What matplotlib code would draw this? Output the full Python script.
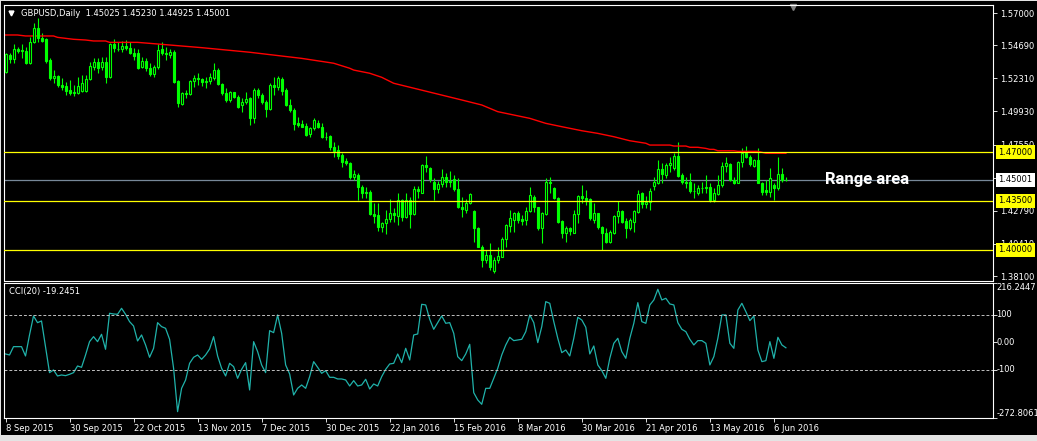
import numpy as np
import matplotlib
matplotlib.use('Agg')
import matplotlib.pyplot as plt
from matplotlib.patches import Rectangle

# GBPUSD daily candles, 8 Sep 2015 .. 9 Jun 2016
opens = [1.5274, 1.5398, 1.5367, 1.5439, 1.5429, 1.5427, 1.5338, 1.5489, 1.5590, 1.5523,
         1.5513, 1.5362, 1.5235, 1.5247, 1.5182, 1.5175, 1.5147, 1.5128, 1.5127, 1.5139,
         1.5139, 1.5226, 1.5310, 1.5348, 1.5310, 1.5348, 1.5242, 1.5475, 1.5439, 1.5439,
         1.5463, 1.5451, 1.5410, 1.5410, 1.5314, 1.5355, 1.5302, 1.5259, 1.5312, 1.5440,
         1.5412, 1.5395, 1.5420, 1.5211, 1.5043, 1.5123, 1.5116, 1.5211, 1.5230, 1.5225,
         1.5201, 1.5211, 1.5235, 1.5290, 1.5187, 1.5123, 1.5075, 1.5130, 1.5099, 1.5039,
         1.5058, 1.5087, 1.4948, 1.5147, 1.5111, 1.5063, 1.5008, 1.5183, 1.5171, 1.5224,
         1.5147, 1.5039, 1.5003, 1.4907, 1.4902, 1.4888, 1.4828, 1.4871, 1.4912, 1.4878,
         1.4811, 1.4816, 1.4734, 1.4715, 1.4678, 1.4638, 1.4619, 1.4524, 1.4536, 1.4447,
         1.4404, 1.4411, 1.4255, 1.4248, 1.4159, 1.4193, 1.4217, 1.4260, 1.4241, 1.4356,
         1.4231, 1.4356, 1.4253, 1.4433, 1.4409, 1.4608, 1.4584, 1.4483, 1.4433, 1.4471,
         1.4524, 1.4483, 1.4505, 1.4433, 1.4308, 1.4284, 1.4332, 1.4277, 1.4152, 1.4021,
         1.3925, 1.3961, 1.3848, 1.3925, 1.3949, 1.4074, 1.4169, 1.4212, 1.4260, 1.4217,
         1.4212, 1.4280, 1.4375, 1.4303, 1.4152, 1.4256, 1.4488, 1.4440, 1.4368, 1.4205,
         1.4116, 1.4152, 1.4121, 1.4256, 1.4385, 1.4368, 1.4361, 1.4212, 1.4260, 1.4159,
         1.4121, 1.4057, 1.4116, 1.4241, 1.4277, 1.4207, 1.4152, 1.4200, 1.4272, 1.4404,
         1.4327, 1.4340, 1.4460, 1.4481, 1.4577, 1.4536, 1.4608, 1.4584, 1.4672, 1.4536,
         1.4488, 1.4488, 1.4423, 1.4404, 1.4445, 1.4440, 1.4447, 1.4356, 1.4399, 1.4464,
         1.4601, 1.4615, 1.4500, 1.4481, 1.4632, 1.4696, 1.4667, 1.4601, 1.4644, 1.4481,
         1.4428, 1.4416, 1.4464, 1.4440, 1.4543, 1.45025]
highs = [1.5415, 1.5415, 1.5475, 1.5458, 1.5475, 1.5458, 1.5530, 1.5626, 1.5662, 1.5554,
         1.5518, 1.5374, 1.5290, 1.5254, 1.5230, 1.5206, 1.5218, 1.5182, 1.5242, 1.5254,
         1.5254, 1.5350, 1.5379, 1.5379, 1.5386, 1.5386, 1.5482, 1.5513, 1.5489, 1.5499,
         1.5506, 1.5494, 1.5446, 1.5440, 1.5386, 1.5374, 1.5338, 1.5326, 1.5477, 1.5494,
         1.5458, 1.5440, 1.5434, 1.5218, 1.5135, 1.5147, 1.5218, 1.5254, 1.5266, 1.5235,
         1.5242, 1.5266, 1.5338, 1.5307, 1.5194, 1.5159, 1.5139, 1.5135, 1.5111, 1.5087,
         1.5130, 1.5099, 1.5159, 1.5159, 1.5123, 1.5075, 1.5195, 1.5242, 1.5247, 1.5242,
         1.5159, 1.5080, 1.5015, 1.4950, 1.4931, 1.4907, 1.4883, 1.4943, 1.4931, 1.4907,
         1.4847, 1.4823, 1.4775, 1.4751, 1.4691, 1.4655, 1.4631, 1.4572, 1.4548, 1.4464,
         1.4447, 1.4428, 1.4332, 1.4332, 1.4200, 1.4284, 1.4361, 1.4296, 1.4404, 1.4361,
         1.4409, 1.4375, 1.4457, 1.4460, 1.4615, 1.4672, 1.4596, 1.4512, 1.4495, 1.4577,
         1.4548, 1.4567, 1.4536, 1.4512, 1.4380, 1.4361, 1.4404, 1.4284, 1.4164, 1.4033,
         1.3997, 1.4045, 1.3949, 1.4021, 1.4088, 1.4183, 1.4284, 1.4272, 1.4279, 1.4248,
         1.4308, 1.4452, 1.4392, 1.4308, 1.4272, 1.4512, 1.4524, 1.4452, 1.4380, 1.4212,
         1.4169, 1.4164, 1.4284, 1.4392, 1.4464, 1.4428, 1.4368, 1.4332, 1.4265, 1.4169,
         1.4152, 1.4140, 1.4248, 1.4351, 1.4284, 1.4224, 1.4224, 1.4284, 1.4428, 1.4416,
         1.4385, 1.4440, 1.4524, 1.4644, 1.4620, 1.4625, 1.4667, 1.4696, 1.4773, 1.4553,
         1.4524, 1.4548, 1.4481, 1.4464, 1.4488, 1.4536, 1.4476, 1.4440, 1.4536, 1.4632,
         1.4663, 1.4620, 1.4524, 1.4639, 1.4727, 1.4744, 1.4679, 1.4648, 1.4727, 1.4488,
         1.4500, 1.4584, 1.4476, 1.4663, 1.4584, 1.45230]
lows = [1.5270, 1.5338, 1.5338, 1.5410, 1.5374, 1.5331, 1.5331, 1.5485, 1.5494, 1.5494,
        1.5338, 1.5218, 1.5194, 1.5170, 1.5147, 1.5111, 1.5111, 1.5106, 1.5115, 1.5135,
        1.5135, 1.5218, 1.5290, 1.5266, 1.5290, 1.5194, 1.5230, 1.5422, 1.5427, 1.5422,
        1.5434, 1.5403, 1.5362, 1.5300, 1.5302, 1.5283, 1.5250, 1.5242, 1.5300, 1.5398,
        1.5362, 1.5375, 1.5200, 1.5027, 1.5039, 1.5091, 1.5111, 1.5171, 1.5182, 1.5177,
        1.5159, 1.5187, 1.5218, 1.5182, 1.5111, 1.5063, 1.5058, 1.5087, 1.5019, 1.4991,
        1.5043, 1.4895, 1.4907, 1.5087, 1.5043, 1.4955, 1.5003, 1.5111, 1.5147, 1.5111,
        1.5032, 1.4991, 1.4859, 1.4878, 1.4878, 1.4816, 1.4811, 1.4859, 1.4871, 1.4799,
        1.4787, 1.4715, 1.4662, 1.4648, 1.4595, 1.4607, 1.4505, 1.4500, 1.4356, 1.4368,
        1.4368, 1.4248, 1.4188, 1.4135, 1.4128, 1.4111, 1.4200, 1.4200, 1.4176, 1.4207,
        1.4224, 1.4152, 1.4248, 1.4370, 1.4404, 1.4560, 1.4488, 1.4356, 1.4404, 1.4452,
        1.4452, 1.4452, 1.4423, 1.4296, 1.4236, 1.4260, 1.4327, 1.4057, 1.4016, 1.3877,
        1.3901, 1.3853, 1.3834, 1.3901, 1.3944, 1.4021, 1.4128, 1.4123, 1.4193, 1.4176,
        1.4176, 1.4272, 1.4272, 1.4140, 1.4050, 1.4248, 1.4404, 1.4361, 1.4193, 1.4081,
        1.4057, 1.4105, 1.4116, 1.4193, 1.4332, 1.4320, 1.4212, 1.4188, 1.4145, 1.3997,
        1.4045, 1.4045, 1.4111, 1.4193, 1.4193, 1.4081, 1.4140, 1.4128, 1.4265, 1.4296,
        1.4296, 1.4284, 1.4428, 1.4471, 1.4481, 1.4512, 1.4560, 1.4572, 1.4524, 1.4471,
        1.4440, 1.4404, 1.4368, 1.4392, 1.4404, 1.4404, 1.4344, 1.4340, 1.4392, 1.4452,
        1.4560, 1.4495, 1.4471, 1.4476, 1.4596, 1.4655, 1.4601, 1.4596, 1.4476, 1.4392,
        1.4392, 1.4380, 1.4356, 1.4428, 1.4488, 1.44925]
closes = [1.5403, 1.5367, 1.5439, 1.5427, 1.5431, 1.5338, 1.5489, 1.5590, 1.5523, 1.5501,
          1.5357, 1.5235, 1.5247, 1.5182, 1.5170, 1.5139, 1.5127, 1.5131, 1.5175, 1.5197,
          1.5226, 1.5322, 1.5348, 1.5302, 1.5348, 1.5242, 1.5475, 1.5451, 1.5440, 1.5463,
          1.5451, 1.5410, 1.5393, 1.5308, 1.5355, 1.5302, 1.5259, 1.5314, 1.5434, 1.5412,
          1.5405, 1.5420, 1.5206, 1.5051, 1.5123, 1.5116, 1.5211, 1.5235, 1.5225, 1.5201,
          1.5211, 1.5242, 1.5290, 1.5187, 1.5123, 1.5075, 1.5135, 1.5099, 1.5027, 1.5063,
          1.5082, 1.4948, 1.5147, 1.5111, 1.5058, 1.5008, 1.5183, 1.5171, 1.5231, 1.5142,
          1.5039, 1.5003, 1.4902, 1.4895, 1.4883, 1.4823, 1.4871, 1.4931, 1.4878, 1.4811,
          1.4806, 1.4734, 1.4710, 1.4672, 1.4631, 1.4619, 1.4524, 1.4543, 1.4447, 1.4404,
          1.4416, 1.4255, 1.4241, 1.4159, 1.4193, 1.4217, 1.4260, 1.4248, 1.4356, 1.4231,
          1.4356, 1.4253, 1.4433, 1.4418, 1.4608, 1.4591, 1.4505, 1.4433, 1.4471, 1.4524,
          1.4483, 1.4495, 1.4433, 1.4303, 1.4289, 1.4332, 1.4399, 1.4152, 1.4021, 1.3925,
          1.3961, 1.3872, 1.3925, 1.3954, 1.4074, 1.4176, 1.4224, 1.4260, 1.4212, 1.4208,
          1.4280, 1.4392, 1.4308, 1.4152, 1.4260, 1.4488, 1.4476, 1.4368, 1.4200, 1.4116,
          1.4152, 1.4135, 1.4256, 1.4385, 1.4368, 1.4356, 1.4224, 1.4260, 1.4159, 1.4121,
          1.4057, 1.4128, 1.4241, 1.4277, 1.4200, 1.4152, 1.4212, 1.4277, 1.4399, 1.4327,
          1.4340, 1.4423, 1.4488, 1.4577, 1.4541, 1.4608, 1.4620, 1.4672, 1.4529, 1.4488,
          1.4476, 1.4423, 1.4418, 1.4445, 1.4440, 1.4452, 1.4356, 1.4404, 1.4464, 1.4601,
          1.4620, 1.4500, 1.4481, 1.4632, 1.4696, 1.4667, 1.4615, 1.4644, 1.4481, 1.4416,
          1.4416, 1.4512, 1.4440, 1.4543, 1.4500, 1.45001]

# CCI(20)
cci = [-41.8, -45.5, -15.2, -15.2, -15.2, -49.1, 27.3, 96.4, 72.1, 78.2,
       -15.2, -109.7, -100.0, -121.8, -118.2, -120.6, -115.8, -109.7, -85.5, -90.3,
       -45.5, 3.0, 21.2, 3.0, 29.7, -24.8, 106.1, 103.6, 102.4, 124.2,
       102.4, 75.8, 60.0, 5.5, 27.3, -9.1, -53.9, -21.2, 72.1, 57.6,
       51.5, 11.5, -93.9, -251.5, -166.7, -136.4, -75.8, -53.9, -45.5, -61.2,
       -45.5, -23.6, 21.2, -49.1, -93.9, -121.8, -75.8, -87.9, -130.3, -97.6,
       -73.3, -172.7, 3.0, -33.3, -81.8, -109.7, 43.0, 35.8, 100.0, 33.3,
       -81.8, -114.5, -190.9, -166.7, -154.5, -166.7, -124.2, -69.7, -90.3, -112.1,
       -102.4, -126.7, -126.7, -132.7, -132.7, -136.4, -158.2, -138.8, -158.2, -154.5,
       -133.9, -169.1, -150.9, -158.2, -124.2, -97.6, -78.2, -75.8, -41.8, -73.3,
       -21.2, -63.6, 27.3, 30.9, 138.8, 136.4, 84.2, 47.9, 72.1, 96.4,
       69.7, 72.1, 33.3, -51.5, -66.1, -41.8, -6.7, -182.4, -209.1, -224.8,
       -166.7, -166.7, -130.3, -93.9, -45.5, -9.1, 18.8, 6.7, 9.1, 11.5,
       39.4, 100.0, 72.1, -0.6, 57.6, 148.5, 142.4, 75.8, 15.2, -37.0,
       -27.3, -49.1, 15.2, 91.5, 81.8, 55.2, -41.8, -12.7, -81.8, -102.4,
       -130.3, -57.6, -3.0, 15.2, -33.3, -57.6, 15.2, 69.7, 144.8, 75.8,
       69.7, 136.4, 154.5, 193.3, 154.5, 160.6, 140.0, 136.4, 72.1, 47.9,
       39.4, 11.5, -9.1, 6.7, 6.7, -3.0, -81.8, -51.5, 15.2, 100.0,
       100.0, -3.0, -21.2, 118.2, 142.4, 112.1, 79.4, 96.4, -27.3, -69.7,
       -66.1, 3.0, -57.6, 18.8, -9.1, -19.2451]

# red moving average, sampled at these bars
ma_idx = [0, 3, 5, 12, 13, 15, 17, 20, 22, 25, 26, 33, 36, 49, 61, 74, 82, 86, 87, 91,
          94, 97, 114, 119, 123, 127, 131, 135, 139, 144, 148, 152, 156, 160, 161, 166,
          167, 170, 171, 173, 175, 176, 177, 178, 182, 183, 188, 190, 195]
ma_val = [1.5542, 1.5542, 1.5535, 1.5535, 1.5525, 1.5518, 1.5511, 1.5506, 1.5499, 1.5499,
          1.5489, 1.5489, 1.5482, 1.5451, 1.5418, 1.5374, 1.5339, 1.5303, 1.5290, 1.5267,
          1.5238, 1.5195, 1.5075, 1.5039, 1.4991, 1.4967, 1.4943, 1.4907, 1.4883, 1.4854,
          1.4835, 1.4811, 1.4782, 1.4764, 1.4751, 1.4751, 1.4744, 1.4744, 1.4735, 1.4735,
          1.4727, 1.4720, 1.4720, 1.4710, 1.4710, 1.4706, 1.4706, 1.4692, 1.4692]

levels = [1.47, 1.435, 1.40]
bid = 1.45001

price_ticks = [1.57, 1.5469, 1.5231, 1.4993, 1.4755, 1.4517, 1.4279, 1.4041, 1.381]
cci_ticks = [216.2447, 100, 0, -100, -272.8061]
cci_labels = ['216.2447', '100', '0.00', '-100', '-272.8061']
date_idx = [0, 16, 32, 48, 64, 80, 96, 112, 128, 144, 160, 176, 192]
date_labels = ['8 Sep 2015', '30 Sep 2015', '22 Oct 2015', '13 Nov 2015', '7 Dec 2015',
               '30 Dec 2015', '22 Jan 2016', '15 Feb 2016', '8 Mar 2016', '30 Mar 2016',
               '21 Apr 2016', '13 May 2016', '6 Jun 2016']

W, H = 1037, 441
fig = plt.figure(figsize=(W / 100, H / 100), dpi=100, facecolor='black')


def px_rect(l, t, r, b):
    return [l / W, 1 - b / H, (r - l) / W, (b - t) / H]


# light window frame round the chart
for l, t, r, b in [(0, 0, W, 1), (0, 0, 1, H), (0, 435, W, H)]:
    fl, fb, fw, fh = px_rect(l, t, r, b)
    fig.patches.append(Rectangle((fl, fb), fw, fh, transform=fig.transFigure,
                                 facecolor='#E3E3E3', edgecolor='none'))

ax = fig.add_axes(px_rect(4, 4.5, 993, 280.5), facecolor='black')
ax2 = fig.add_axes(px_rect(4, 283, 993, 417.5), facecolor='black')

x = np.arange(len(opens))
o, h, l, c = (np.array(v) for v in (opens, highs, lows, closes))
up = c >= o
bot = np.minimum(o, c)
hgt = np.maximum(np.abs(c - o), 0.00003)

# candles
ax.vlines(x, l, h, color='#00FF00', lw=0.8, zorder=2)
ax.bar(x[up], hgt[up], bottom=bot[up], width=0.5, facecolor='black',
       edgecolor='#00FF00', lw=0.8, zorder=3)
ax.bar(x[~up], hgt[~up], bottom=bot[~up], width=0.5, facecolor='#00FF00',
       edgecolor='#00FF00', lw=0.8, zorder=3)

ax.plot(ma_idx, ma_val, color='red', lw=1.0, zorder=2)
for lv in levels:
    ax.axhline(lv, color='yellow', lw=0.9, zorder=4)
ax.axhline(bid, color='#778899', lw=0.9, zorder=1)

ax.set_xlim(-0.375, 246.75)
ax.set_ylim(1.37777, 1.57611)
ax.set_xticks([])
ax.yaxis.tick_right()
ax.set_yticks(price_ticks)
ax.set_yticklabels([f'{v:.5f}' for v in price_ticks])
ax.tick_params(axis='y', colors='white', labelsize=6, length=3, width=0.6, pad=2)
for s in ax.spines.values():
    s.set_color('white')
    s.set_linewidth(0.8)

# price boxes on the right scale
for lv in levels:
    ax.annotate(f'{lv:.5f}', xy=(1, lv), xycoords=('axes fraction', 'data'),
                xytext=(4, 0), textcoords='offset points', ha='left', va='center',
                fontsize=6, color='black', annotation_clip=False, zorder=6,
                bbox=dict(boxstyle='square,pad=0.3', fc='yellow', ec='none'))
ax.annotate(f'{bid:.5f}', xy=(1, bid), xycoords=('axes fraction', 'data'),
            xytext=(4, 0), textcoords='offset points', ha='left', va='center',
            fontsize=6, color='black', annotation_clip=False, zorder=6,
            bbox=dict(boxstyle='square,pad=0.3', fc='white', ec='none'))

ax.text(0.0169, 0.968, 'GBPUSD,Daily  1.45025 1.45230 1.44925 1.45001', transform=ax.transAxes,
        color='white', fontsize=6, ha='left', va='center')
ax.plot([0.0075], [0.968], marker='v', color='white', ms=3.5, transform=ax.transAxes, clip_on=False)
ax.plot([0.798], [0.99], marker='v', color='#808080', ms=4, transform=ax.transAxes, clip_on=False)

ax.text(204.8, 1.4501, 'Range area', color='white', fontsize=12, fontweight='bold',
        family='Roboto', ha='left', va='center')

# CCI panel
ax2.plot(x, cci, color='#20B2AA', lw=0.9)
for lv in (100, -100):
    ax2.axhline(lv, color='#C0C0C0', lw=0.7, ls=(0, (3, 2)))
ax2.set_xlim(-0.375, 246.75)
ax2.set_ylim(-272.8061, 216.2447)
ax2.yaxis.tick_right()
ax2.set_yticks(cci_ticks)
ax2.set_yticklabels([])
ax2.tick_params(axis='y', colors='white', length=3, width=0.6)
for v, t in zip(cci_ticks, cci_labels):
    va = 'top' if v > 200 else ('bottom' if v < -200 else 'center')
    ax2.annotate(t, xy=(1, v), xycoords=('axes fraction', 'data'), xytext=(2.5, 0),
                 textcoords='offset points', ha='left', va=va, fontsize=6,
                 color='white', annotation_clip=False)
ax2.set_xticks(date_idx)
ax2.set_xticklabels(date_labels, ha='left')
ax2.tick_params(axis='x', colors='white', labelsize=6, length=3, width=0.6, pad=2)
for s in ax2.spines.values():
    s.set_color('white')
    s.set_linewidth(0.8)
ax2.text(0.005, 0.94, 'CCI(20) -19.2451', transform=ax2.transAxes, color='white',
         fontsize=6, ha='left', va='center')

fig.savefig('out.png', dpi=100, facecolor='black')
